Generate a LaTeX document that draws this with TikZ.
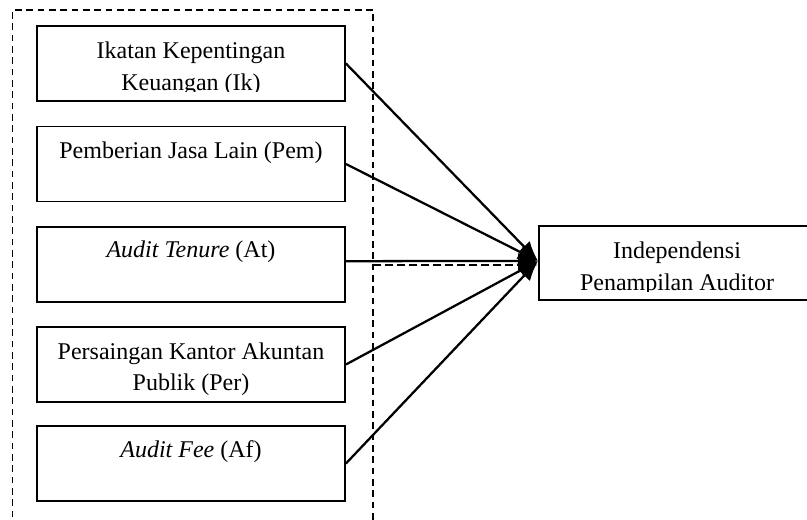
\documentclass[tikz,border=0pt]{standalone}
\usepackage{fontspec}
\setmainfont{Liberation Serif}
\usetikzlibrary{arrows.meta}
\begin{document}
\begin{tikzpicture}[x=0.75pt,y=-0.75pt,
  box/.style={draw,line width=1.4pt,inner sep=0pt,minimum width=231pt,minimum height=56.25pt},
  lbl/.style={anchor=base,inner sep=0pt,font=\fontsize{18}{23}\selectfont},
  link/.style={line width=1.7pt,-{Latex[length=15pt,width=12pt]}},
  grp/.style={line width=1.4pt,dash pattern=on 5pt off 3.5pt}]
\useasboundingbox (0,0) rectangle (807,520);
\begin{scope}
\clip (0,0) rectangle (807,520);
% group border
\draw[grp] (12.5,540) -- (12.5,9.7) -- (373,9.7) -- (373,540);
\coordinate (gr) at (373,265);
% boxes
\node[box] (b1) at (191,63.5) {};
\node[box] (b2) at (191,164) {};
\node[box] (b3) at (191,264.5) {};
\node[box] (b4) at (191,364.5) {};
\node[box] (b5) at (191,463.5) {};
\node[box,minimum width=210pt,minimum height=55.5pt,anchor=west] (dv) at (538,263) {};
% texts
\begin{scope}
\clip (37,26) rectangle (345,91.5);
\node[lbl] (t1a) at (191,59) {Ikatan Kepentingan};
\node[lbl] (t1b) at (191,91) {Keuangan (Ik)};
\end{scope}
\node[lbl] (t2) at (191,159) {Pemberian Jasa Lain (Pem)};
\node[lbl] (t3) at (191,258) {\textit{Audit Tenure} (At)};
\node[lbl] (t4a) at (191,359) {Persaingan Kantor Akuntan};
\node[lbl] (t4b) at (191,391) {Publik (Per)};
\node[lbl] (t5) at (191,457) {\textit{Audit Fee} (Af)};
\begin{scope}
\clip (538,226) rectangle (807,291.5);
\node[lbl] (tda) at (677,259) {Independensi};
\node[lbl] (tdb) at (677,291) {Penampilan Auditor};
\end{scope}
% connectors
\coordinate (tip) at ([yshift=1.5pt]dv.west);
\coordinate (tip2) at ([yshift=-1.5pt]dv.west);
\draw[link] (b1.east) -- (tip);
\draw[link] (b2.east) -- (tip);
\draw[link] ([yshift=2.5pt]b3.east) -- (tip);
\draw[link] (b4.east) -- (tip);
\draw[link] (b5.east) -- (tip);
\draw[link,dash pattern=on 6pt off 3pt] (gr) -- (tip2);
\end{scope}
\end{tikzpicture}
\end{document}
